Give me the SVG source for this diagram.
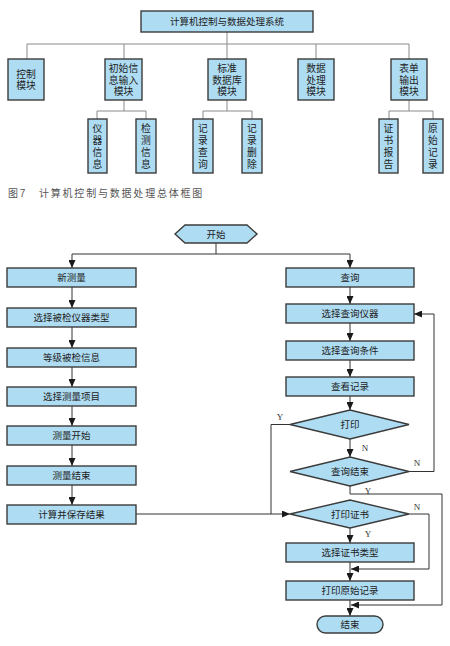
<svg xmlns="http://www.w3.org/2000/svg" width="450" height="646" viewBox="0 0 450 646">
<defs>
<marker id="ah" markerUnits="userSpaceOnUse" markerWidth="8" markerHeight="7" refX="8" refY="3.5" orient="auto">
<path d="M0,0 L8,3.5 L0,7 z" fill="#1a1a1a"/>
</marker>
</defs>
<style>
.bx{fill:#aedcf2;stroke:#3c3c3c;stroke-width:1.4}
.t{font-family:"Liberation Sans","Noto Sans CJK SC",sans-serif;font-size:9.5px;fill:#222;text-anchor:middle;dominant-baseline:central}
.t10{font-size:9.8px}
.tree{fill:none;stroke:#8a8a8a;stroke-width:1}
.fl{fill:none;stroke:#333;stroke-width:1}
.ar{marker-end:url(#ah)}
.lb{font-family:"Liberation Serif",serif;font-size:9px;fill:#333;text-anchor:middle}
.cap{font-family:"Liberation Sans","Noto Sans CJK SC",sans-serif;font-size:10px;fill:#555;letter-spacing:1.8px}
</style>
<rect width="450" height="646" fill="#fff"/>

<g id="tree-connectors">
<path class="tree" d="M227,32 V44 M27,44 H409 M27,44 V59 M124,44 V59 M227,44 V59 M316,44 V59 M409,44 V59"/>
<path class="tree" d="M124,100 V111 M97,111 H146 M97,111 V119 M146,111 V119"/>
<path class="tree" d="M227,100 V111 M203,111 H252 M203,111 V119 M252,111 V119"/>
<path class="tree" d="M409,100 V111 M389,111 H433 M389,111 V119 M433,111 V119"/>
</g>

<g id="sys"><rect class="bx" x="141" y="11" width="172" height="21"/><text class="t" x="227" y="21.5">计算机控制与数据处理系统</text></g>
<g id="m1"><rect class="bx" x="8" y="59" width="36" height="41"/><text class="t t10" x="26" y="74">控制<tspan x="26" dy="11.2">模块</tspan></text></g>
<g id="m2"><rect class="bx" x="105" y="59" width="37" height="41"/><text class="t t10" x="123.5" y="68.5">初始信<tspan x="123.5" dy="11.2">息输入</tspan><tspan x="123.5" dy="11.2">模块</tspan></text></g>
<g id="m3"><rect class="bx" x="208" y="59" width="38" height="41"/><text class="t t10" x="227" y="68.5">标准<tspan x="227" dy="11.2">数据库</tspan><tspan x="227" dy="11.2">模块</tspan></text></g>
<g id="m4"><rect class="bx" x="298" y="59" width="36" height="41"/><text class="t t10" x="316" y="68.5">数据<tspan x="316" dy="11.2">处理</tspan><tspan x="316" dy="11.2">模块</tspan></text></g>
<g id="m5"><rect class="bx" x="391" y="59" width="36" height="41"/><text class="t t10" x="409" y="68.5">表单<tspan x="409" dy="11.2">输出</tspan><tspan x="409" dy="11.2">模块</tspan></text></g>

<g id="l1"><rect class="bx" x="88" y="119" width="19" height="54"/><text class="t t10" x="97.5" y="128">仪<tspan x="97.5" dy="12">器</tspan><tspan x="97.5" dy="12">信</tspan><tspan x="97.5" dy="12">息</tspan></text></g>
<g id="l2"><rect class="bx" x="136" y="119" width="20" height="54"/><text class="t t10" x="146" y="128">检<tspan x="146" dy="12">测</tspan><tspan x="146" dy="12">信</tspan><tspan x="146" dy="12">息</tspan></text></g>
<g id="l3"><rect class="bx" x="193" y="119" width="20" height="54"/><text class="t t10" x="203" y="128">记<tspan x="203" dy="12">录</tspan><tspan x="203" dy="12">查</tspan><tspan x="203" dy="12">询</tspan></text></g>
<g id="l4"><rect class="bx" x="242" y="119" width="20" height="54"/><text class="t t10" x="252" y="128">记<tspan x="252" dy="12">录</tspan><tspan x="252" dy="12">删</tspan><tspan x="252" dy="12">除</tspan></text></g>
<g id="l5"><rect class="bx" x="379" y="119" width="19" height="54"/><text class="t t10" x="388.5" y="128">证<tspan x="388.5" dy="12">书</tspan><tspan x="388.5" dy="12">报</tspan><tspan x="388.5" dy="12">告</tspan></text></g>
<g id="l6"><rect class="bx" x="423" y="119" width="20" height="54"/><text class="t t10" x="433" y="128">原<tspan x="433" dy="12">始</tspan><tspan x="433" dy="12">记</tspan><tspan x="433" dy="12">录</tspan></text></g>

<text class="cap" x="8" y="197">图7　计算机控制与数据处理总体框图</text>

<g id="flow-connectors">
<path class="fl" d="M216,243 V254 M72,254 H350"/>
<path class="fl ar" d="M72,254 V268"/>
<path class="fl ar" d="M350,254 V268"/>
<path class="fl ar" d="M72,287 V308"/>
<path class="fl ar" d="M72,327 V348"/>
<path class="fl ar" d="M72,367 V387"/>
<path class="fl ar" d="M72,406 V426"/>
<path class="fl ar" d="M72,445 V466"/>
<path class="fl ar" d="M72,485 V505"/>
<path class="fl ar" d="M350,287 V304"/>
<path class="fl ar" d="M350,323 V341"/>
<path class="fl ar" d="M350,360 V377"/>
<path class="fl ar" d="M350,396 V410"/>
<path class="fl ar" d="M350,439 V457"/>
<path class="fl ar" d="M409,471.5 H434 V314 H414"/>
<path class="fl" d="M290,424.5 H271 V514"/>
<path class="fl ar" d="M136,514 H290"/>
<path class="fl ar" d="M350,486 V494 H442 V605 H351"/>
<path class="fl ar" d="M409,514 H429 V569 H351"/>
<path class="fl ar" d="M350,528 V543"/>
<path class="fl ar" d="M350,562 V581"/>
<path class="fl ar" d="M350,600 V616"/>
<text class="lb" x="280" y="420">Y</text>
<text class="lb" x="365" y="451">N</text>
<text class="lb" x="417" y="466">N</text>
<text class="lb" x="368" y="494">Y</text>
<text class="lb" x="417" y="510">N</text>
<text class="lb" x="368" y="537">Y</text>
</g>

<g id="start"><polygon class="bx" points="175,234 185,225 247,225 257,234 247,243 185,243"/><text class="t" x="216" y="234">开始</text></g>
<g id="a1"><rect class="bx" x="7" y="268" width="129" height="19"/><text class="t" x="71.5" y="277.5">新测量</text></g>
<g id="a2"><rect class="bx" x="7" y="308" width="129" height="19"/><text class="t" x="71.5" y="317.5">选择被检仪器类型</text></g>
<g id="a3"><rect class="bx" x="7" y="348" width="129" height="19"/><text class="t" x="71.5" y="357.5">等级被检信息</text></g>
<g id="a4"><rect class="bx" x="7" y="387" width="129" height="19"/><text class="t" x="71.5" y="396.5">选择测量项目</text></g>
<g id="a5"><rect class="bx" x="7" y="426" width="129" height="19"/><text class="t" x="71.5" y="435.5">测量开始</text></g>
<g id="a6"><rect class="bx" x="7" y="466" width="129" height="19"/><text class="t" x="71.5" y="475.5">测量结束</text></g>
<g id="a7"><rect class="bx" x="7" y="505" width="129" height="19"/><text class="t" x="71.5" y="514.5">计算并保存结果</text></g>

<g id="b1"><rect class="bx" x="286" y="268" width="128" height="19"/><text class="t" x="350" y="277.5">查询</text></g>
<g id="b2"><rect class="bx" x="286" y="304" width="128" height="19"/><text class="t" x="350" y="313.5">选择查询仪器</text></g>
<g id="b3"><rect class="bx" x="286" y="341" width="128" height="19"/><text class="t" x="350" y="350.5">选择查询条件</text></g>
<g id="b4"><rect class="bx" x="286" y="377" width="128" height="19"/><text class="t" x="350" y="386.5">查看记录</text></g>
<g id="d1"><polygon class="bx" points="290,424.5 350,410 409,424.5 350,439"/><text class="t" x="350" y="424.5">打印</text></g>
<g id="d2"><polygon class="bx" points="290,471.5 350,457 409,471.5 350,486"/><text class="t" x="350" y="471.5">查询结束</text></g>
<g id="d3"><polygon class="bx" points="290,514 350,500 409,514 350,528"/><text class="t" x="350" y="514">打印证书</text></g>
<g id="b5"><rect class="bx" x="286" y="543" width="128" height="19"/><text class="t" x="350" y="552.5">选择证书类型</text></g>
<g id="b6"><rect class="bx" x="286" y="581" width="128" height="19"/><text class="t" x="350" y="590.5">打印原始记录</text></g>
<g id="end"><rect class="bx" x="317" y="616" width="66" height="17" rx="8.5"/><text class="t" x="350" y="624.5">结束</text></g>
</svg>
